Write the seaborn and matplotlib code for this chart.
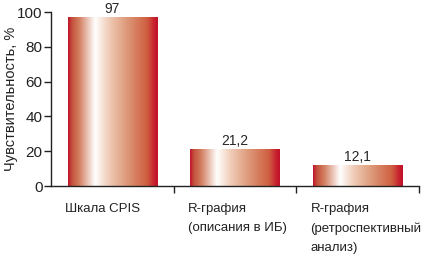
import seaborn as sns
import matplotlib.pyplot as plt
import matplotlib.transforms as mtransforms
from matplotlib.colors import LinearSegmentedColormap
import numpy as np
import pandas as pd

categories = ['Шкала CPIS', 'R-графия\n(описания в ИБ)', 'R-графия\n(ретроспективный\nанализ)']
values = [97, 21.2, 12.1]
value_labels = ['97', '21,2', '12,1']
y_ticks = [0, 20, 40, 60, 80, 100]

df = pd.DataFrame({'cat': categories, 'val': values})

sns.set_style('white')
plt.rcParams['font.family'] = ['Liberation Sans', 'DejaVu Sans']

fig = plt.figure(figsize=(4.27, 2.6), dpi=100)
ax = fig.add_axes([51 / 427, 74 / 260, 368 / 427, 174 / 260])

sns.barplot(data=df, x='cat', y='val', width=0.73, color='#c8102e', ax=ax)

# gradient fill like the original (red edges, white highlight at ~30%)
grad = LinearSegmentedColormap.from_list('bar', [
    (0.0, '#c0102a'), (0.04, '#c4503c'), (0.12, '#d27c5e'),
    (0.30, '#ffffff'), (0.45, '#f0cdb8'), (0.65, '#dd9a7a'),
    (0.88, '#cf5e40'), (0.96, '#c8202e'), (1.0, '#c0102a')])
row = np.linspace(0, 1, 256).reshape(1, -1)
for i, p in enumerate(list(ax.patches)):
    x0, y0 = p.get_x(), p.get_y()
    w, h = p.get_width(), p.get_height()
    p.set_facecolor('none')
    p.set_edgecolor('none')
    im = ax.imshow(row, cmap=grad, aspect='auto', extent=(x0, x0 + w, y0, y0 + h),
                   interpolation='bicubic', zorder=2)
    im.set_clip_path(p)
    ax.text(x0 + w / 2, h + 0.6, value_labels[i],
            ha='center', va='bottom', fontsize=10)

ax.set_xlim(-0.5, 2.5)
ax.set_ylim(0, 100)
ax.set_yticks(y_ticks)
ax.set_xticks([0.5, 1.5, 2.5])
ax.set_xticklabels([])
ax.tick_params(axis='y', length=5, width=1, direction='out', labelsize=11,
               pad=1, left=True, colors='#222222')
ax.tick_params(axis='x', length=5, width=1, direction='out', bottom=True, colors='#222222')
for s in ['top', 'right']:
    ax.spines[s].set_visible(False)
for s in ['left', 'bottom']:
    ax.spines[s].set_color('#222222')
    ax.spines[s].set_linewidth(1)

trans = mtransforms.blended_transform_factory(ax.transData, ax.transAxes)
for i, lab in enumerate(categories):
    ax.text(i - 0.385, -0.1, lab, transform=trans, ha='left', va='top',
            fontsize=9.5, linespacing=1.75, color='#222222')

ax.set_xlabel('')
ax.set_ylabel('Чувствительность, %', fontsize=10.5, color='#222222', va='center')
ax.yaxis.set_label_coords(-0.11, 0.5)

fig.savefig('out.png', dpi=100)
